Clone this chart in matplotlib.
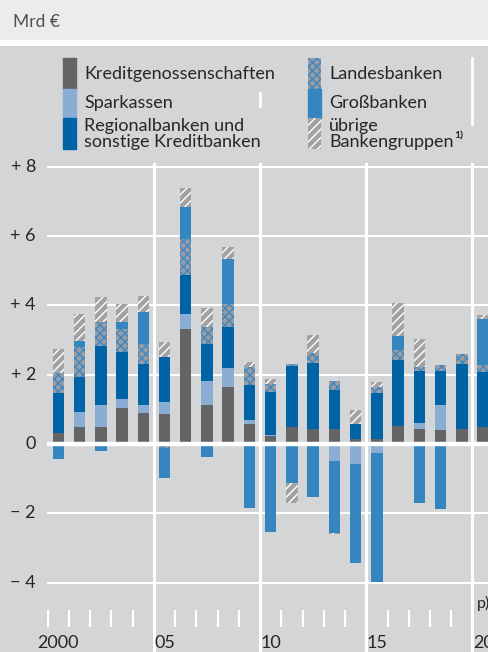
import numpy as np
import matplotlib
matplotlib.use("Agg")
import matplotlib.pyplot as plt
from matplotlib.patches import Rectangle
from matplotlib.lines import Line2D

plt.rcParams['font.family'] = ['Lato', 'DejaVu Sans']
plt.rcParams['hatch.linewidth'] = 1.0

years = np.arange(2000, 2021)

# Mrd Euro, per bank group
kredit = [0.33, 0.50, 0.50, 1.03, 0.90, 0.88, 3.32, 1.13, 1.64, 0.58, 0.23,
          0.50, 0.43, 0.42, 0.13, 0.13, 0.52, 0.44, 0.40, 0.42, 0.48]
spark = [0.00, 0.41, 0.63, 0.27, 0.22, 0.32, 0.42, 0.70, 0.55, 0.12, 0.04,
         0.00, 0.00, -0.49, -0.59, -0.27, 0.00, 0.17, 0.73, 0.00, 0.00]
regional = [1.15, 1.02, 1.71, 1.36, 1.19, 1.31, 1.14, 1.06, 1.20, 0.99, 1.24,
            1.76, 1.90, 1.14, 0.44, 1.35, 1.89, 1.51, 0.99, 1.89, 1.60]
landes = [0.56, 0.87, 0.67, 0.65, 0.58, -0.12, 1.04, 0.48, 0.65, 0.52, 0.22,
          0.04, 0.29, 0.26, 0.00, 0.17, 0.29, 0.11, 0.15, 0.29, 0.19]
gross = [-0.43, 0.18, -0.20, 0.22, 0.91, -0.86, 0.91, -0.37, 1.29, -1.86, -2.53,
         -1.12, -1.52, -2.07, -2.85, -3.72, 0.42, -1.71, -1.87, 0.00, 1.34]
uebrige = [0.70, 0.77, 0.74, 0.52, 0.47, 0.44, 0.57, 0.56, 0.36, 0.16, 0.15,
           -0.57, 0.53, -0.05, 0.41, 0.15, 0.94, 0.79, 0.00, 0.00, 0.10]

labels = ['Kreditgenossenschaften', 'Sparkassen',
          'Regionalbanken und\nsonstige Kreditbanken',
          'Landesbanken', 'Großbanken', 'übrige\nBankengruppen']
tick_years = [2000, 2005, 2010, 2015, 2020]
tick_text = ['2000', '05', '10', '15', '20']
ytick_vals = [8, 6, 4, 2, 0, -2, -4]
ytick_text = ['+ 8', '+ 6', '+ 4', '+ 2', '0', '− 2', '− 4']

bg = '#d4d5d7'
txt = '#262626'
styles = [
    dict(color='#636466'),
    dict(color='#8aadd4'),
    dict(color='#0063a6'),
    dict(facecolor='#9c9c9e', edgecolor='#3a88c8', hatch='xxxx', linewidth=0),
    dict(color='#3586bf'),
    dict(facecolor='#a2a2a4', edgecolor='white', hatch='////', linewidth=0),
]

W, H = 489, 652
fig = plt.figure(figsize=(W / 100, H / 100), dpi=100, facecolor=bg)

# header band
fig.patches.append(Rectangle((0, 1 - 39.5 / H), 1, 39.5 / H, transform=fig.transFigure,
                             facecolor='#ececee', edgecolor='none', zorder=0))
fig.patches.append(Rectangle((0, 1 - 45.5 / H), 1, 6 / H, transform=fig.transFigure,
                             facecolor='white', edgecolor='none', zorder=0))
fig.text(13 / W, 1 - 22 / H, 'Mrd €', fontsize=12.5, color='#505050', va='center', ha='left')

# axes: x=2000 at 58.3px, 21.24 px per year; y=0 at 444px, 34.65 px per unit
px_year, px_unit = 21.24, 34.65
top_px = 163
ax = fig.add_axes([47 / W, 0, 1 - 47 / W, 1 - top_px / H])
ax.set_facecolor(bg)
ax.set_xlim(2000 + (47 - 58.3) / px_year, 2000 + (489 - 58.3) / px_year)
ax.set_ylim((444 - 652) / px_unit, (444 - top_px) / px_unit)
for s in ax.spines.values():
    s.set_visible(False)
ax.set_xticks([])
ax.set_yticks([])

for v in ytick_vals:
    if v != 0:
        ax.axhline(v, color='white', lw=1.5, zorder=1)
for x in [2004.5, 2009.5, 2014.5, 2019.5]:
    ax.axvline(x, color='white', lw=2.2, zorder=1)
ax.axhline(0, color='white', lw=3.2, zorder=5)

series = [kredit, spark, regional, landes, gross, uebrige]
pos_bottom = np.zeros(len(years))
neg_bottom = np.zeros(len(years))
for vals, st in zip(series, styles):
    vals = np.array(vals)
    pos = np.where(vals > 0, vals, 0)
    neg = np.where(vals < 0, vals, 0)
    ax.bar(years, pos, 0.54, bottom=pos_bottom, zorder=3, **st)
    ax.bar(years, neg, 0.54, bottom=neg_bottom, zorder=3, **st)
    pos_bottom += pos
    neg_bottom += neg

# small ticks at year boundaries
yt0, yt1 = (444 - 610) / px_unit, (444 - 627) / px_unit
for x in np.arange(1999.5, 2020.5, 1.0):
    if x not in (2004.5, 2009.5, 2014.5, 2019.5):
        ax.plot([x, x], [yt0, yt1], color='white', lw=1.6, zorder=2, solid_capstyle='butt')

for y, t in zip(tick_years, tick_text):
    ax.text(y, (444 - 643) / px_unit, t, ha='center', va='center', fontsize=13,
            color=txt, clip_on=False)
ax.text(2020, (444 - 603) / px_unit, 'p)', ha='center', va='center', fontsize=11.5,
        color=txt, clip_on=False)

for v, t in zip(ytick_vals, ytick_text):
    fig.text(36 / W, 1 - (444 - v * px_unit) / H, t, ha='right', va='center',
             fontsize=13, color=txt)

# legend
sw = [(58, 89), (89, 118), (118, 149)]
cols = [(63, 84), (308, 329)]
rows_y = [74, 103, 134]
for i, (lab, st) in enumerate(zip(labels, styles)):
    c = i // 3
    r = i % 3
    x0, tx = cols[c]
    y0, y1 = sw[r]
    fig.patches.append(Rectangle((x0 / W, 1 - y1 / H), 13 / W, (y1 - y0) / H,
                                 transform=fig.transFigure, zorder=3, **st))
    fig.text(tx / W, 1 - rows_y[r] / H, lab, ha='left', va='center', fontsize=13,
             color=txt, linespacing=0.95)
fig.text(454 / W, 1 - 136 / H, '1)', ha='left', va='center', fontsize=7.5,
         color=txt, fontweight='bold')

# stray grid bits visible in the legend area
fig.lines.append(Line2D([472 / W, 472 / W], [1 - 58 / H, 1 - 124 / H],
                        transform=fig.transFigure, color='white', lw=2))
fig.lines.append(Line2D([260 / W, 260 / W], [1 - 93 / H, 1 - 106 / H],
                        transform=fig.transFigure, color='white', lw=2))

fig.savefig('out.png', dpi=100, facecolor=bg)
